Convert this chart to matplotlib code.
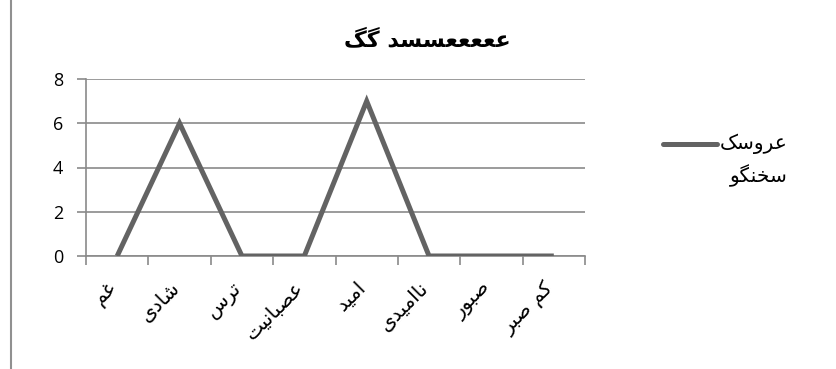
import matplotlib
matplotlib.use("Agg")
import matplotlib.pyplot as plt
from matplotlib.lines import Line2D
from matplotlib.transforms import ScaledTranslation

categories = ["غم", "شادی", "ترس", "عصبانیت", "امید", "ناامیدی", "صبور", "کم صبر"]
values = [0, 6, 0, 0, 7, 0, 0, 0]
series_name = "عروسک سخنگو"
title = "عععععسسد گگ"
yticks = [0, 2, 4, 6, 8]

# --- minimal Arabic/Persian shaper (presentation forms + visual reversal) ---
FORMS = {
    "ا": ("\uFE8D", "\uFE8E", None, None),
    "ب": ("\uFE8F", "\uFE90", "\uFE91", "\uFE92"),
    "ت": ("\uFE95", "\uFE96", "\uFE97", "\uFE98"),
    "خ": ("\uFEA5", "\uFEA6", "\uFEA7", "\uFEA8"),
    "د": ("\uFEA9", "\uFEAA", None, None),
    "ر": ("\uFEAD", "\uFEAE", None, None),
    "س": ("\uFEB1", "\uFEB2", "\uFEB3", "\uFEB4"),
    "ش": ("\uFEB5", "\uFEB6", "\uFEB7", "\uFEB8"),
    "ص": ("\uFEB9", "\uFEBA", "\uFEBB", "\uFEBC"),
    "ع": ("\uFEC9", "\uFECA", "\uFECB", "\uFECC"),
    "غ": ("\uFECD", "\uFECE", "\uFECF", "\uFED0"),
    "م": ("\uFEE1", "\uFEE2", "\uFEE3", "\uFEE4"),
    "ن": ("\uFEE5", "\uFEE6", "\uFEE7", "\uFEE8"),
    "و": ("\uFEED", "\uFEEE", None, None),
    "ی": ("\uFBFC", "\uFBFD", "\uFBFE", "\uFBFF"),
    "ک": ("\uFB8E", "\uFB8F", "\uFB90", "\uFB91"),
    "گ": ("\uFB92", "\uFB93", "\uFB94", "\uFB95"),
}

def joins_next(ch):
    f = FORMS.get(ch)
    return f is not None and f[2] is not None

def shape(text):
    out = []
    n = len(text)
    for i, ch in enumerate(text):
        f = FORMS.get(ch)
        if f is None:
            out.append(ch)
            continue
        prev_j = i > 0 and joins_next(text[i - 1])
        next_j = i < n - 1 and text[i + 1] in FORMS and f[2] is not None
        if prev_j and next_j:
            out.append(f[3])
        elif prev_j:
            out.append(f[1])
        elif next_j:
            out.append(f[2])
        else:
            out.append(f[0])
    return "".join(reversed(out))

FAM = ["DejaVu Sans"]
LINE_C = "#636363"
GRID_C = "#8a8a8a"

fig = plt.figure(figsize=(8.36, 3.69), dpi=100)
ax = fig.add_axes([86 / 836, 1 - 256 / 369, (585 - 86) / 836, (256 - 79) / 369])

x = list(range(len(categories)))
ax.plot(x, values, color=LINE_C, lw=3.6, solid_joinstyle="miter",
        solid_capstyle="butt", zorder=3)
ax.set_xlim(-0.5, len(categories) - 0.5)
ax.set_ylim(0, 8)
ax.set_yticks(yticks)
ax.set_yticklabels([str(v) for v in yticks], fontfamily="Open Sans", fontsize=13)
ax.yaxis.grid(True, color=GRID_C, lw=1.2)
ax.set_axisbelow(True)

ax.set_xticks([i + 0.5 for i in range(-1, len(categories))], minor=False)
ax.set_xticklabels([])
ax.tick_params(axis="x", which="major", direction="out", length=6.5, color=GRID_C, width=1.2)
ax.tick_params(axis="y", direction="out", length=6.5, color=GRID_C, width=1.2, pad=10)
ax.set_xticks(x, minor=True)
ax.set_xticklabels([shape(c) for c in categories], minor=True, rotation=45,
                   ha="right", va="top", rotation_mode="anchor",
                   fontfamily=FAM, fontsize=14.5)
ax.tick_params(axis="x", which="minor", length=0, pad=16)
shift = ScaledTranslation(-10 / 100, 0, fig.dpi_scale_trans)
for lab in ax.get_xticklabels(minor=True):
    lab.set_transform(lab.get_transform() + shift)

for s in ["top", "right"]:
    ax.spines[s].set_visible(False)
for s in ["left", "bottom"]:
    ax.spines[s].set_color(GRID_C)
    ax.spines[s].set_linewidth(1.2)

fig.text(427 / 836, 1 - 40 / 369, shape(title), ha="center", va="center",
         fontfamily=FAM, fontsize=16, fontweight="bold")

# legend
fig.add_artist(Line2D([663 / 836, 717 / 836], [1 - 144 / 369, 1 - 144 / 369],
                      color=LINE_C, lw=3.6, solid_capstyle="round"))
words = series_name.split(" ")
t1 = fig.text(720 / 836, 1 - 144 / 369, shape(words[0]), ha="left", va="center",
              fontfamily=FAM, fontsize=14.5)
fig.canvas.draw()
bb = t1.get_window_extent(renderer=fig.canvas.get_renderer())
fig.text(bb.x1 / fig.bbox.width, 1 - 176 / 369, shape(words[1]), ha="right",
         va="center", fontfamily=FAM, fontsize=14.5)

# left border line
fig.add_artist(Line2D([11 / 836, 11 / 836], [0, 1], color="#909090", lw=1.5))

fig.savefig("out.png", dpi=100)
